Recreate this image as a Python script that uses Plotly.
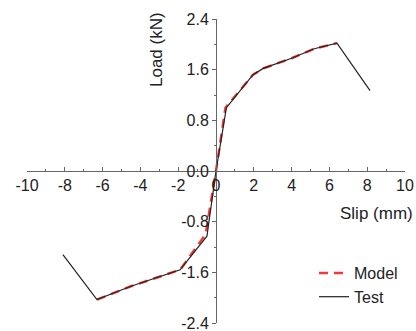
import plotly.graph_objects as go

test_slip = [-8.1, -6.3, -4.5, -2.6, -1.9, -0.48, 0.0, 0.55, 1.96, 2.5, 4.0, 5.2, 6.4, 8.15]
test_load = [-1.32, -2.03, -1.82, -1.63, -1.56, -1.03, 0.0, 1.0, 1.52, 1.62, 1.78, 1.93, 2.02, 1.27]

model_slip = [-6.3, -4.5, -2.6, -1.9, -0.55, 0.0, 0.5, 1.96, 2.5, 4.0, 5.2, 6.4]
model_load = [-2.03, -1.82, -1.63, -1.56, -1.0, 0.0, 1.0, 1.52, 1.62, 1.78, 1.93, 2.02]

x_ticks = [-10, -8, -6, -4, -2, 0, 2, 4, 6, 8, 10]
x_tick_text = ["-10", "-8", "-6", "-4", "-2", "0", "2", "4", "6", "8", "10"]
y_ticks = [-2.4, -1.6, -0.8, 0.0, 0.8, 1.6, 2.4]
y_tick_text = ["-2.4", "-1.6", "-0.8", "0.0", "0.8", "1.6", "2.4"]

fig = go.Figure()
fig.add_trace(go.Scatter(x=model_slip, y=model_load, mode="lines", name="Model",
                         line=dict(color="#f03a3a", width=2.5, dash="9px,6px")))
fig.add_trace(go.Scatter(x=test_slip, y=test_load, mode="lines", name="Test",
                         line=dict(color="#222222", width=1.2)))

axis_col = "#666666"
L, R, T, B = 27, 11, 19, 8
pw, ph = 416 - L - R, 331 - T - B

def px_x(p):
    return (p - L) / pw

def px_y(p):
    return 1 - (p - T) / ph

fig.update_layout(
    width=416, height=331,
    margin=dict(l=L, r=R, t=T, b=B, autoexpand=False),
    paper_bgcolor="white", plot_bgcolor="white",
    font=dict(family="Liberation Sans, Arial", size=16, color="#222222"),
    xaxis=dict(range=[-10, 10], tickvals=x_ticks, ticktext=x_tick_text,
               showgrid=False, zeroline=False, automargin=False,
               showline=True, linecolor=axis_col, linewidth=1,
               anchor="free", position=0.5, side="bottom",
               ticks="inside", ticklen=4, tickcolor=axis_col,
               ticklabeloverflow="allow",
               minor=dict(ticks="inside", ticklen=2, dtick=1, tickcolor=axis_col),
               tickfont=dict(size=16)),
    yaxis=dict(range=[-2.4, 2.4], tickvals=y_ticks, ticktext=y_tick_text,
               showgrid=False, zeroline=False, automargin=False,
               showline=True, linecolor=axis_col, linewidth=1,
               anchor="free", position=0.5, side="left",
               ticks="outside", ticklen=4, tickcolor=axis_col,
               ticklabeloverflow="allow",
               minor=dict(ticks="outside", ticklen=2, dtick=0.4, tickcolor=axis_col),
               tickfont=dict(size=16)),
    legend=dict(x=px_x(314), y=px_y(256), xanchor="left", yanchor="top",
                bgcolor="rgba(0,0,0,0)", font=dict(size=16),
                tracegroupgap=0),
    annotations=[
        dict(text="Load (kN)", x=px_x(156), y=px_y(50), xref="paper", yref="paper",
             xanchor="center", yanchor="middle",
             showarrow=False, textangle=-90, font=dict(size=17)),
        dict(text="Slip (mm)", x=px_x(415), y=px_y(202), xref="paper", yref="paper",
             showarrow=False, xanchor="right", yanchor="top", font=dict(size=17)),
    ],
)

fig.write_html("out.html", config={"displayModeBar": False},
               post_script="document.body.style.margin='0';")
